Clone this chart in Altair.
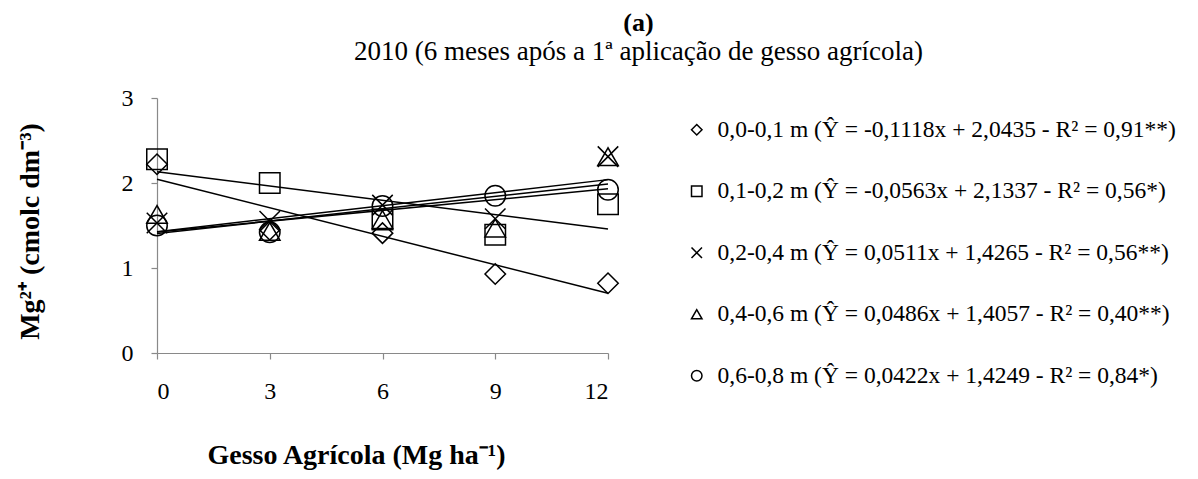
import altair as alt
import pandas as pd

# ---- data ----
doses = [0, 3, 6, 9, 12]
series = [
    "0,0-0,1 m (Ŷ = -0,1118x + 2,0435 - R² = 0,91**)",
    "0,1-0,2 m (Ŷ = -0,0563x + 2,1337 - R² = 0,56*)",
    "0,2-0,4 m (Ŷ = 0,0511x + 1,4265 - R² = 0,56**)",
    "0,4-0,6 m (Ŷ = 0,0486x + 1,4057 - R² = 0,40**)",
    "0,6-0,8 m (Ŷ = 0,0422x + 1,4249 - R² = 0,84*)",
]
mg_00_01 = [2.22, 1.45, 1.41, 0.93, 0.82]
mg_01_02 = [2.28, 2.00, 1.57, 1.39, 1.75]
mg_02_04 = [1.53, 1.55, 1.74, 1.58, 2.31]
mg_04_06 = [1.63, 1.43, 1.57, 1.47, 2.31]
mg_06_08 = [1.50, 1.42, 1.73, 1.85, 1.92]
slopes = [-0.1118, -0.0563, 0.0511, 0.0486, 0.0422]
intercepts = [2.0435, 2.1337, 1.4265, 1.4057, 1.4249]
shapes = [
    "diamond",
    "square",
    "M-1,-1L1,1M-1,1L1,-1",
    "triangle-up",
    "circle",
]

values = [mg_00_01, mg_01_02, mg_02_04, mg_04_06, mg_06_08]
pts = pd.DataFrame(
    [{"dose": d, "mg": v, "serie": s} for s, vals in zip(series, values) for d, v in zip(doses, vals)]
)
fit = pd.DataFrame(
    [
        {"dose": x, "mg": b + a * x, "serie": s}
        for s, a, b in zip(series, slopes, intercepts)
        for x in (doses[0], doses[-1])
    ]
)

FONT = "Liberation Serif"

xenc = alt.X(
    "dose:Q",
    scale=alt.Scale(domain=[0, 12], nice=False, zero=False),
    axis=alt.Axis(
        values=doses,
        title="Gesso Agrícola (Mg ha⁻¹)",
        titleX=199,
        titleY=110,
        titleAlign="center",
        titleBaseline="alphabetic",
        labelPadding=20,
    ),
)
yenc = alt.Y(
    "mg:Q",
    scale=alt.Scale(domain=[0, 3], nice=False),
    axis=alt.Axis(
        values=[0, 1, 2, 3],
        title="Mg²⁺ (cmolc dm⁻³)",
        titleX=-127,
        titleY=133,
        titleAlign="center",
        titleBaseline="middle",
        labelPadding=18,
    ),
)

lines = (
    alt.Chart(fit)
    .mark_line(color="black", strokeWidth=1.5)
    .encode(x=xenc, y=yenc, detail="serie:N")
)

points = (
    alt.Chart(pts)
    .mark_point(filled=False, color="black", strokeWidth=1.5, size=420, opacity=1)
    .encode(
        x=xenc,
        y=yenc,
        shape=alt.Shape(
            "serie:N",
            scale=alt.Scale(domain=series, range=shapes),
            legend=alt.Legend(
                title=None,
                orient="none",
                legendX=528,
                legendY=20,
                labelFont=FONT,
                labelFontSize=23.5,
                labelColor="black",
                labelLimit=800,
                labelOffset=9,
                rowPadding=36.5,
                symbolSize=110,
                symbolStrokeColor="black",
                symbolStrokeWidth=1.5,
                symbolFillColor="transparent",
            ),
        ),
    )
)

chart = (
    alt.layer(lines, points)
    .properties(
        width=451,
        height=255,
        autosize=alt.AutoSizeParams(type="none"),
        padding={"left": 149, "top": 90, "right": 582, "bottom": 123},
        title=alt.TitleParams(
            text="(a)",
            subtitle="2010 (6 meses após a 1ª aplicação de gesso agrícola)",
            anchor="middle",
            frame="group",
            dx=256,
            offset=21,
            font=FONT,
            fontSize=26,
            fontWeight="bold",
            color="black",
            subtitleFont=FONT,
            subtitleFontSize=27,
            subtitleColor="black",
            subtitlePadding=3,
        ),
    )
    .configure_view(stroke=None)
    .configure_axis(
        grid=False,
        domainColor="#898989",
        domainWidth=1.2,
        tickColor="#898989",
        tickWidth=1.2,
        tickSize=6,
        labelFont=FONT,
        labelFontSize=24,
        labelColor="black",
        titleFont=FONT,
        titleFontSize=28,
        titleFontWeight="bold",
        titleColor="black",
    )
)

chart.save("out.html", embed_options={"renderer": "svg", "actions": False})
